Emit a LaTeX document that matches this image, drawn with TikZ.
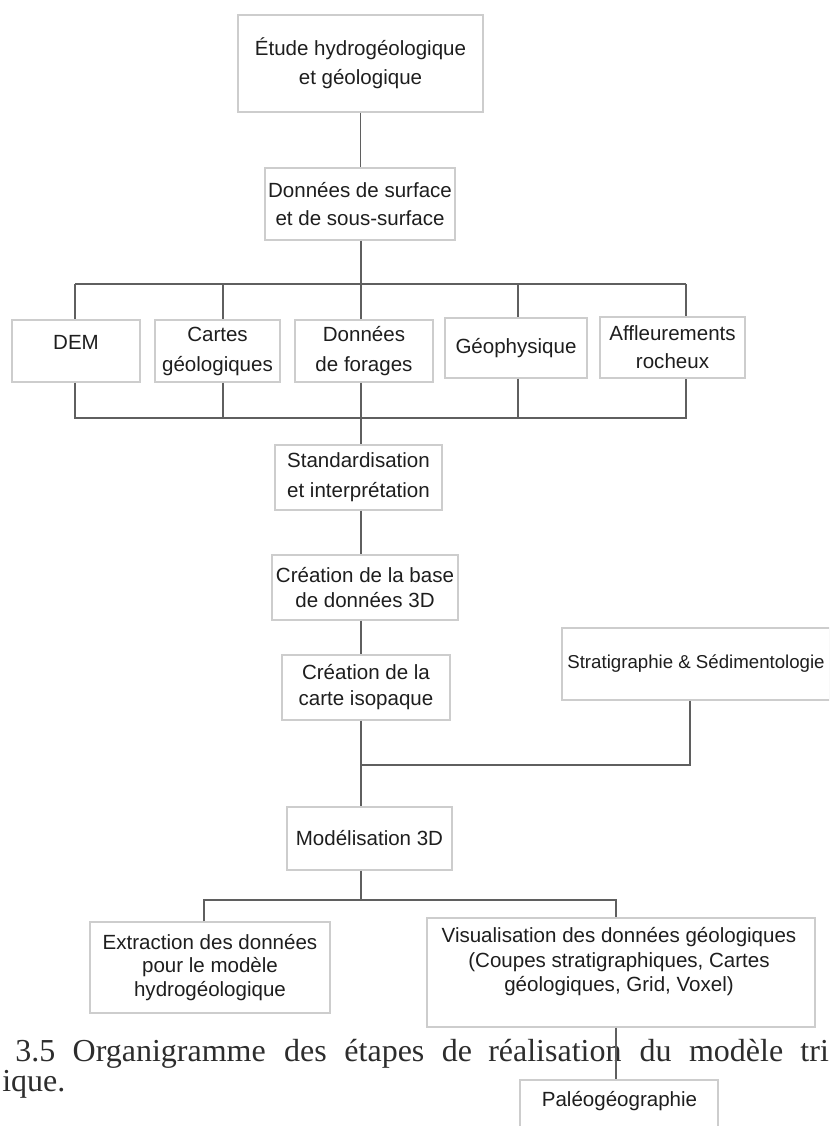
\documentclass[tikz,border=0pt]{standalone}
\usepackage{fontspec}
\setmainfont{Liberation Sans}
\newfontfamily\capfont{Liberation Serif}
\newcommand\bfs[1]{\fontsize{15.4pt}{#1pt}\selectfont}
\definecolor{boxgray}{RGB}{205,205,205}
\definecolor{linegray}{RGB}{95,95,95}
\definecolor{txt}{RGB}{30,30,30}
\definecolor{captxt}{RGB}{45,45,45}
\begin{document}
\begin{tikzpicture}[x=0.75pt,y=-0.75pt,
  box/.style={draw=boxgray, line width=1pt, fill=white, inner sep=0pt, align=center, text=txt, font=\bfs{21}},
  wh/.style 2 args={minimum width=#1*0.75pt, minimum height=#2*0.75pt},
  lbl/.style={inner sep=0pt, align=center, text=txt, font=\bfs{#1}},
  link/.style={draw=linegray, line width=0.9pt},
  capword/.style={font=\capfont\fontsize{24pt}{28pt}\selectfont, text=captxt, anchor=base west, inner sep=0pt}]
\useasboundingbox (0,0) rectangle (829,1126);
\clip (0,0) rectangle (829,1126);
\fill[white] (0,0) rectangle (829,1126);

% caption fragments
\node[capword] (c1) at (15,1061) {3.5};
\node[capword] (c2) at (72.4,1061) {Organigramme};
\node[capword] (c3) at (283.8,1061) {des};
\node[capword] (c4) at (344.2,1061) {étapes};
\node[capword] (c5) at (441.6,1061) {de};
\node[capword] (c6) at (488,1061) {réalisation};
\node[capword] (c7) at (639.4,1061) {du};
\node[capword] (c8) at (688.8,1061) {modèle};
\node[capword] (c9) at (800.2,1061) {tri};
\node[capword] (c10) at (2,1091) {ique.};

% boxes
\node[box, wh={245}{97}, font=\bfs{22}] (etude) at (360.5,63.5) {Étude hydrogéologique\\et géologique};
\node[box, wh={190}{72}] (surf) at (360,204) {Données de surface\\et de sous-surface};

\node[box, wh={128}{62}] (dem) at (76,351) {};
\node[lbl=21] (demT) at (76,342) {DEM};
\node[box, wh={125}{62}, font=\bfs{22.5}] (cartes) at (217.5,351) {Cartes\\géologiques};
\node[box, wh={138}{62}, font=\bfs{22.5}] (forages) at (364,351) {Données\\de forages};
\node[box, wh={142}{60}] (geo) at (516,348) {Géophysique};
\node[box, wh={145}{61}] (affl) at (672.5,347.5) {Affleurements\\rocheux};

\node[box, wh={167}{65}, font=\bfs{22.5}] (std) at (358.5,477.5) {Standardisation\\et interprétation};
\node[box, wh={186}{65}, font=\bfs{19}] (base) at (365,587.5) {Création de la base\\de données 3D};
\node[box, wh={168}{65}, font=\bfs{19.5}] (carte) at (366,687.5) {Création de la\\carte isopaque};
\node[box, wh={268}{72}, font=\fontsize{14pt}{17pt}\selectfont] (strat) at (696,664) {Stratigraphie \& Sédimentologie};
\node[box, wh={165}{63}] (model) at (369.5,838.5) {Modélisation 3D};

\node[box, wh={240}{91}, font=\bfs{17.6}] (extr) at (210,967.5) {Extraction des données\\pour le modèle\\hydrogéologique};
\node[box, wh={388}{109}] (visu) at (621,972.5) {};
\node[lbl=18.4] (visuT) at (619,962) {Visualisation des données géologiques\\(Coupes stratigraphiques, Cartes\\géologiques, Grid, Voxel)};
\node[box, wh={198}{48}] (paleo) at (619,1104) {};
\node[lbl=18] (paleoT) at (619.5,1101.5) {Paléogéographie};

% junction coordinates
\coordinate (tL) at (75,284);
\coordinate (t2) at (223,284);
\coordinate (t3) at (361,284);
\coordinate (t4) at (518,284);
\coordinate (tR) at (686,284);
\coordinate (bL) at (75,418);
\coordinate (b2) at (223,418);
\coordinate (b3) at (361,418);
\coordinate (b4) at (518,418);
\coordinate (bR) at (686,418);
\coordinate (m) at (361,765);
\coordinate (s) at (690,765);
\coordinate (d) at (361,900);
\coordinate (dL) at (204,900);
\coordinate (dR) at (616,900);

% connectors
\draw[link] (etude.south) -- (etude.south |- surf.north);
\draw[link] (surf.south -| t3) -- (t3);
\draw[link] (tL) -- (tR);
\draw[link] (tL) -- (tL |- dem.north);
\draw[link] (t2) -- (t2 |- cartes.north);
\draw[link] (t3) -- (t3 |- forages.north);
\draw[link] (t4) -- (t4 |- geo.north);
\draw[link] (tR) -- (tR |- affl.north);
\draw[link] (bL |- dem.south) -- (bL) -- (bR) -- (bR |- affl.south);
\draw[link] (b2 |- cartes.south) -- (b2);
\draw[link] (b3 |- forages.south) -- (b3);
\draw[link] (b4 |- geo.south) -- (b4);
\draw[link] (b3) -- (b3 |- std.north);
\draw[link] (std.south -| b3) -- (base.north -| b3);
\draw[link] (base.south -| b3) -- (carte.north -| b3);
\draw[link] (carte.south -| m) -- (m) -- (model.north -| m);
\draw[link] (strat.south -| s) -- (s) -- (m);
\draw[link] (model.south -| d) -- (d);
\draw[link] (extr.north -| dL) -- (dL) -- (dR) -- (visu.north -| dR);
\draw[link] (visu.south -| dR) -- (paleo.north -| dR);
\end{tikzpicture}
\end{document}
